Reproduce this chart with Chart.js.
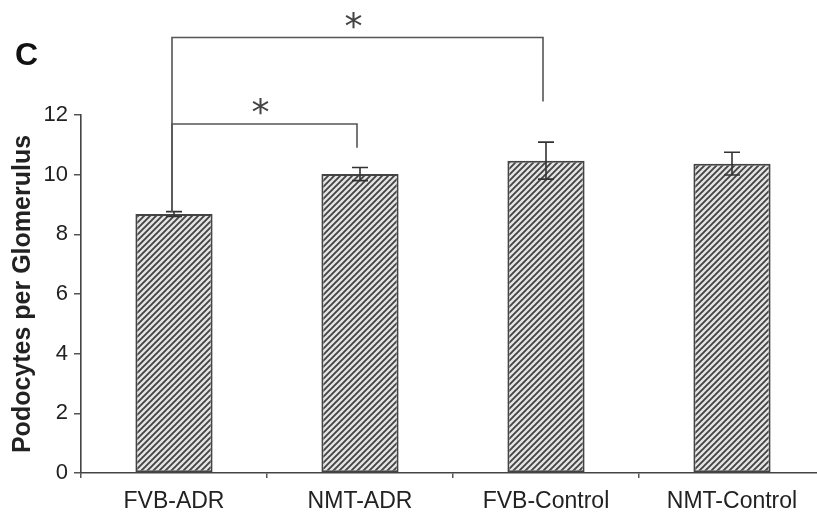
<!DOCTYPE html>
<html>
<head>
<meta charset="utf-8">
<script src="https://cdn.jsdelivr.net/npm/chart.js@4.4.0/dist/chart.umd.min.js"></script>
<style>
  html, body { margin: 0; padding: 0; background: #fff; overflow: hidden; }
  #wrap { position: relative; width: 825px; height: 520px; }
</style>
</head>
<body>
<div id="wrap"><canvas id="c"></canvas></div>
<script>
const categories = ["FVB-ADR", "NMT-ADR", "FVB-Control", "NMT-Control"];
const means = [8.68, 10.02, 10.47, 10.37];
const errors = [0.08, 0.22, 0.62, 0.38];
const yTicks = [0, 2, 4, 6, 8, 10, 12];
// significance brackets: [from index, to index, bracket level, right-leg end, label]
const brackets = [
  { from: 0, to: 2, level: 14.6, rightEnd: 12.45, label: "*" },
  { from: 0, to: 1, level: 11.7, rightEnd: 10.9, label: "*" }
];

function hatch() {
  const s = 6;
  const p = document.createElement('canvas');
  p.width = s; p.height = s;
  const g = p.getContext('2d');
  g.fillStyle = '#e4e4e4';
  g.fillRect(0, 0, s, s);
  g.strokeStyle = '#444';
  g.lineWidth = 1.9;
  g.beginPath();
  g.moveTo(-1, s + 1); g.lineTo(s + 1, -1);
  g.moveTo(-1, 1); g.lineTo(1, -1);
  g.moveTo(s - 1, s + 1); g.lineTo(s + 1, s - 1);
  g.stroke();
  return document.getElementById('c').getContext('2d').createPattern(p, 'repeat');
}

const extras = {
  id: 'extras',
  afterDatasetsDraw(chart) {
    const ctx = chart.ctx;
    const y = chart.scales.y;
    const meta = chart.getDatasetMeta(0);
    ctx.save();
    // error bars
    ctx.strokeStyle = '#333';
    ctx.lineWidth = 1.6;
    means.forEach((m, i) => {
      const x = meta.data[i].x;
      const t = y.getPixelForValue(m + errors[i]);
      const b = y.getPixelForValue(m - errors[i]);
      ctx.beginPath();
      ctx.moveTo(x, t); ctx.lineTo(x, b);
      ctx.moveTo(x - 8, t); ctx.lineTo(x + 8, t);
      ctx.moveTo(x - 8, b); ctx.lineTo(x + 8, b);
      ctx.stroke();
    });
    // brackets
    ctx.strokeStyle = '#555';
    ctx.lineWidth = 1.6;
    ctx.fillStyle = '#444';
    ctx.font = '36px "DejaVu Sans", sans-serif';
    ctx.textAlign = 'center';
    ctx.textBaseline = 'middle';
    brackets.forEach(br => {
      const x1 = meta.data[br.from].x - 2;
      const x2 = meta.data[br.to].x - 3;
      const yl = y.getPixelForValue(br.level);
      const yL = y.getPixelForValue(means[br.from] + errors[br.from]);
      const yR = y.getPixelForValue(br.rightEnd);
      ctx.beginPath();
      ctx.moveTo(x1, yL); ctx.lineTo(x1, yl); ctx.lineTo(x2, yl); ctx.lineTo(x2, yR);
      ctx.stroke();
      ctx.fillText(br.label, (x1 + x2) / 2 - 4, yl - 9);
    });
    // panel letter
    ctx.fillStyle = '#111';
    ctx.font = 'bold 32px "Liberation Sans", Arial, sans-serif';
    ctx.textAlign = 'left';
    ctx.textBaseline = 'alphabetic';
    ctx.fillText('C', 15, 65);
    ctx.restore();
  }
};

new Chart(document.getElementById('c'), {
  type: 'bar',
  data: {
    labels: categories,
    datasets: [{
      data: means,
      backgroundColor: hatch(),
      borderColor: '#444',
      borderWidth: 2,
      borderSkipped: false,
      categoryPercentage: 1.0,
      barPercentage: 0.415
    }]
  },
  options: {
    responsive: true,
    maintainAspectRatio: false,
    animation: false,
    layout: { padding: { top: 115, right: 0, left: 0, bottom: 0 } },
    plugins: { legend: { display: false }, tooltip: { enabled: false } },
    scales: {
      x: {
        grid: { display: true, drawOnChartArea: false, offset: true, tickLength: 5, color: '#555', lineWidth: 1.5 },
        border: { display: true, color: '#444', width: 1.6 },
        ticks: { color: '#222', padding: 10, font: { family: '"Liberation Sans", Arial, sans-serif', size: 23 } },
        afterFit(s) { s.height = 47; }
      },
      y: {
        min: 0, max: 12,
        afterBuildTicks(s) { s.ticks = yTicks.map(v => ({ value: v })); },
        grid: { display: true, drawOnChartArea: false, tickLength: 7, color: '#555', lineWidth: 1.5 },
        border: { display: true, color: '#444', width: 1.6 },
        ticks: { color: '#222', padding: 6, font: { family: '"Liberation Sans", Arial, sans-serif', size: 22 } },
        title: { display: true, text: 'Podocytes per Glomerulus', color: '#222', padding: { top: 8, bottom: 0 },
                 font: { family: '"Liberation Sans", Arial, sans-serif', size: 25, weight: 'bold' } },
        afterFit(s) { s.width = 81; }
      }
    }
  },
  plugins: [extras]
});
</script>
</body>
</html>
